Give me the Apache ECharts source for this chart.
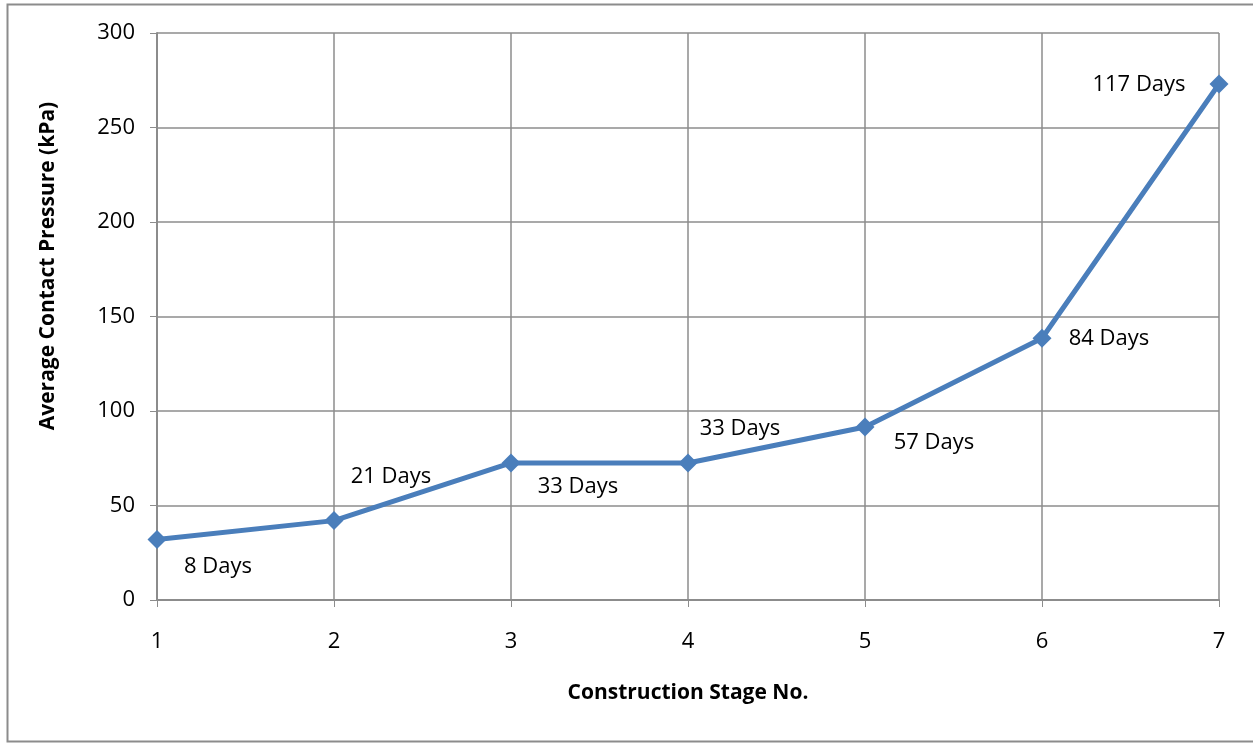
<!DOCTYPE html>
<html>
<head>
<meta charset="utf-8">
<script src="https://cdn.jsdelivr.net/npm/echarts@6/dist/echarts.min.js"></script>
<style>
  html, body { margin: 0; padding: 0; background: #fff; }
  #main { width: 1253px; height: 743px; }
</style>
</head>
<body>
<div id="main"></div>
<script>
// data
var stages = [1, 2, 3, 4, 5, 6, 7];
var pressure = [32, 42, 72.5, 72.5, 91.5, 138.5, 273];
var days = ["8 Days", "21 Days", "33 Days", "33 Days", "57 Days", "84 Days", "117 Days"];

// where each day label sits relative to its point
var labelOffsets = [[61, 27], [57, -44], [67, 24], [52, -34], [69, 16], [67, 0], [-80, 1]];

var font = "'Open Sans', 'Noto Sans', sans-serif";
var gridColor = "#8c8c8c";

var chart = echarts.init(document.getElementById("main"));

var seriesData = stages.map(function (s, i) {
  return {
    value: [s, pressure[i]],
    label: { formatter: days[i], offset: labelOffsets[i] }
  };
});

var option = {
  animation: false,
  grid: { left: 157, right: 34, top: 33, bottom: 143 },
  xAxis: {
    type: "value",
    min: 1,
    max: 7,
    interval: 1,
    name: "Construction Stage No.",
    nameLocation: "middle",
    nameGap: 83,
    nameTextStyle: { fontFamily: font, fontSize: 21, fontWeight: "bold", color: "#000" },
    axisLine: { show: true, lineStyle: { color: gridColor, width: 2 } },
    axisTick: { show: true, length: 7, lineStyle: { color: gridColor } },
    axisLabel: { fontFamily: font, fontSize: 22, color: "#000", margin: 31 },
    splitLine: { show: true, lineStyle: { color: gridColor, width: 1.5 } }
  },
  yAxis: {
    type: "value",
    min: 0,
    max: 300,
    interval: 50,
    axisLine: { show: true, lineStyle: { color: gridColor, width: 2 } },
    axisTick: { show: true, length: 7, lineStyle: { color: gridColor } },
    axisLabel: { fontFamily: font, fontSize: 22, color: "#000", margin: 22 },
    splitLine: { show: true, lineStyle: { color: gridColor, width: 1.5 } }
  },
  graphic: [
    {
      type: "rect",
      shape: { x: 7.5, y: 4.5, width: 1300, height: 737 },
      style: { fill: "none", stroke: "#8c8c8c", lineWidth: 2 },
      silent: true
    },
    {
      type: "text",
      x: 48,
      y: 266,
      rotation: Math.PI / 2,
      style: {
        text: "Average Contact Pressure (kPa)",
        font: "bold 21px " + font,
        fill: "#000",
        align: "center",
        verticalAlign: "middle"
      }
    }
  ],
  series: [
    {
      type: "line",
      data: seriesData,
      symbol: "diamond",
      symbolSize: 19,
      itemStyle: { color: "#4a7ebb" },
      lineStyle: { color: "#4a7ebb", width: 5 },
      label: {
        show: true,
        position: "inside",
        fontFamily: font,
        fontSize: 22,
        color: "#000"
      }
    }
  ]
};

chart.setOption(option);
</script>
</body>
</html>
